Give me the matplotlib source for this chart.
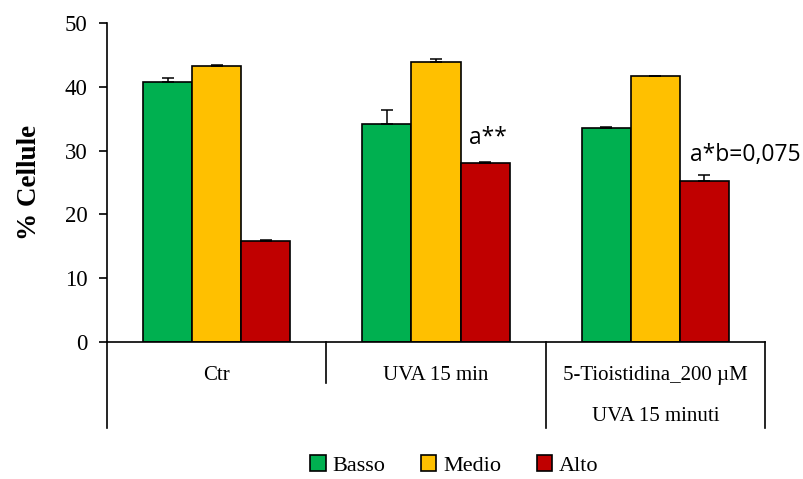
import numpy as np
import matplotlib
matplotlib.use("Agg")
from matplotlib import pyplot as plt

categories = ["Ctr", "UVA 15 min", "5-Tioistidina_200 \u00b5M"]
group_labels = ["", "UVA 15 minuti"]
series = ["Basso", "Medio", "Alto"]
colors = ["#00B050", "#FFC000", "#C00000"]

basso = [40.8, 34.2, 33.6]
medio = [43.3, 43.9, 41.7]
alto = [15.8, 28.1, 25.3]
basso_err = [0.6, 2.2, 0.05]
medio_err = [0.05, 0.5, 0.05]
alto_err = [0.2, 0.15, 0.8]

annotations = [(1.235, "a**", 32.0), (2.41, "a*b=0,075", 29.3)]

serif = "Liberation Serif"

fig = plt.figure(figsize=(8.04, 4.79), dpi=100)
ax = fig.add_axes([0.1331, 0.286, 0.8184, 0.666])

x = np.arange(len(categories))
w = 0.224
values = [basso, medio, alto]
errs = [basso_err, medio_err, alto_err]
for i, (vals, err) in enumerate(zip(values, errs)):
    ax.bar(x + (i - 1) * w, vals, w, color=colors[i], edgecolor="black",
           linewidth=1.2, label=series[i], zorder=2)
    ax.errorbar(x + (i - 1) * w, vals, yerr=[np.zeros(len(err)), err],
                fmt="none", ecolor="black", elinewidth=1.1, capsize=4,
                capthick=1.1, zorder=3)

for xv, txt, yv in annotations:
    ax.text(xv, yv, txt, ha="center", va="center", fontsize=16.5,
            family="Open Sans", clip_on=False)

ax.set_xlim(-0.5, 2.5)
ax.set_ylim(0, 50)
ax.set_yticks(range(0, 51, 10))
ax.set_xticks([])
ax.spines["top"].set_visible(False)
ax.spines["right"].set_visible(False)
ax.spines["left"].set_linewidth(1.2)
ax.spines["bottom"].set_linewidth(1.2)
ax.tick_params(axis="y", direction="out", length=6, width=1.2, pad=8)
for lab in ax.get_yticklabels():
    lab.set_fontfamily(serif)
    lab.set_fontsize(16.5)
ax.set_ylabel("% Cellule", fontsize=19.5, fontweight="bold", family=serif,
              labelpad=16)

# category table under the axis
tr = ax.get_xaxis_transform()
for xv, bottom in [(-0.5, -0.27), (0.5, -0.128), (1.5, -0.27), (2.5, -0.27)]:
    ax.plot([xv, xv], [0, bottom], color="black", lw=1.2, transform=tr,
            clip_on=False)
for xi, cat in enumerate(categories):
    ax.text(xi, -0.105, cat, transform=tr, ha="center", va="center",
            fontsize=15, family=serif)
ax.text(0.5, -0.235, group_labels[0], transform=tr, ha="center", va="center",
        fontsize=15, family=serif)
ax.text(2, -0.235, group_labels[1], transform=tr, ha="center", va="center",
        fontsize=15, family=serif)

fig.legend(loc="lower center", bbox_to_anchor=(0.565, -0.035), ncol=3,
           frameon=False, handlelength=0.7, handleheight=0.7,
           handletextpad=0.3, columnspacing=1.6,
           prop={"family": serif, "size": 16})

fig.savefig("out.png", dpi=100)
